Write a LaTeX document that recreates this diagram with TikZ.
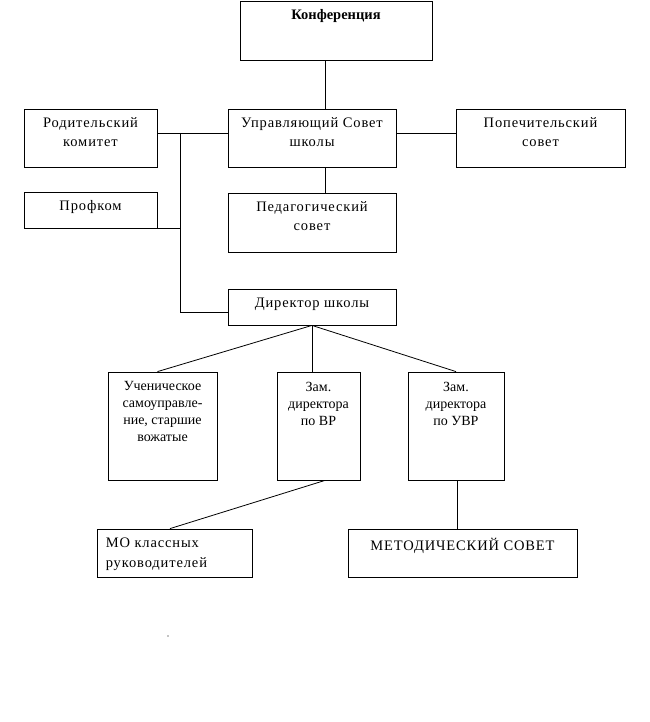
\documentclass[tikz,border=0pt]{standalone}
\usepackage{fontspec}
\setmainfont{Liberation Serif}
\newfontfamily\widefont[LetterSpace=6]{Liberation Serif}
\usetikzlibrary{positioning,calc}

\begin{document}
\begin{tikzpicture}[x=1pt,y=-1pt,
    unit/.style={draw,line width=0.8pt,inner sep=0pt},
    caption/.style={anchor=north,inner sep=0pt,align=center,font=\widefont\fontsize{14.5}{19}\selectfont},
    narrow/.style={anchor=north,inner sep=0pt,align=center,font=\fontsize{14}{17}\selectfont},
    link/.style={line width=0.8pt}]
  \fill[white] (0,0) rectangle (649,722);
  \useasboundingbox (0,0) rectangle (649,722);
  % upper part
  \node[unit,minimum width=192pt,minimum height=59pt] (konf) at (336,30.5) {};
  \node[caption,font=\bfseries\fontsize{14.5}{19}\selectfont] (konfT) at ([yshift=-9pt]konf.north) {Конференция};
  \node[unit,minimum width=168pt,minimum height=58pt] (upr) at (312,138) {};
  \node[caption] (uprT) at ([yshift=-9pt]upr.north) {Управляющий Совет\\школы};
  \node[unit,minimum width=169pt,minimum height=58pt] (pop) at (540.5,138) {};
  \node[caption] (popT) at ([yshift=-9pt]pop.north) {Попечительский\\совет};
  \node[unit,minimum width=133pt,minimum height=58pt] (rod) at (90.5,138) {};
  \node[caption] (rodT) at ([yshift=-9pt]rod.north) {Родительский\\комитет};
  \node[unit,minimum width=133pt,minimum height=36pt] (prof) at (90.5,210) {};
  \node[caption] (profT) at ([yshift=-9pt]prof.north) {Профком};
  \node[unit,minimum width=168pt,minimum height=59pt] (ped) at (312,222.5) {};
  \node[caption] (pedT) at ([yshift=-9pt]ped.north) {Педагогический\\совет};
  \node[unit,minimum width=168pt,minimum height=36pt] (dir) at (312,307) {};
  \node[caption] (dirT) at ([yshift=-9pt]dir.north) {Директор школы};
  % deputies
  \node[unit,minimum width=109pt,minimum height=108pt] (uch) at (162.5,426) {};
  \node[narrow] (uchT) at ([yshift=-10pt]uch.north) {Ученическое\\самоуправле-\\ние, старшие\\вожатые};
  \node[unit,minimum width=83pt,minimum height=108pt] (zvr) at (318.5,426) {};
  \node[narrow] (zvrT) at ([yshift=-10pt]zvr.north) {Зам.\\директора\\по ВР};
  \node[unit,minimum width=96pt,minimum height=108pt] (zuvr) at (456,426) {};
  \node[narrow] (zuvrT) at ([yshift=-10pt]zuvr.north) {Зам.\\директора\\по УВР};
  % lower part
  \node[unit,minimum width=155pt,minimum height=48pt] (mo) at (174.5,553) {};
  \node[caption,anchor=north west,align=left,font=\widefont\fontsize{14.5}{20}\selectfont] (moT) at ([xshift=9pt,yshift=-9pt]mo.north west) {МО классных\\руководителей};
  \node[unit,minimum width=229pt,minimum height=48pt] (met) at (462.5,553) {};
  \node[caption] (metT) at ([yshift=-9pt]met.north) {МЕТОДИЧЕСКИЙ СОВЕТ};

  \coordinate (konfFoot) at ([xshift=13pt]upr.north);
  \coordinate (pedHead) at ([xshift=13pt]upr.south);
  \draw[link] (konfFoot) -- (konfFoot |- konf.south);
  \draw[link] (pedHead) -- (pedHead |- ped.north);
  \draw[link] ([yshift=5pt]upr.east) -- ([yshift=5pt]pop.west);
  \draw[link] ([yshift=5pt]rod.east) -- ([yshift=5pt]upr.west);
  \coordinate (trunk) at (180,133);
  \draw[link] (trunk) |- ([yshift=-5pt]dir.west);
  \draw[link] (prof.south east) -- (prof.south east -| trunk);
  \draw[link] (dir.south) -- ([xshift=-5pt]uch.north);
  \draw[link] (dir.south) -- (dir.south |- zvr.north);
  \draw[link] (dir.south) -- (zuvr.north);
  \draw[link] ([xshift=6.5pt]zvr.south) -- ([xshift=-4.5pt]mo.north);
  \coordinate (uvrFoot) at ([xshift=1pt]zuvr.south);
  \draw[link] (uvrFoot) -- (uvrFoot |- met.north);
  \fill (168,636) circle (0.6pt);
\end{tikzpicture}
\end{document}
